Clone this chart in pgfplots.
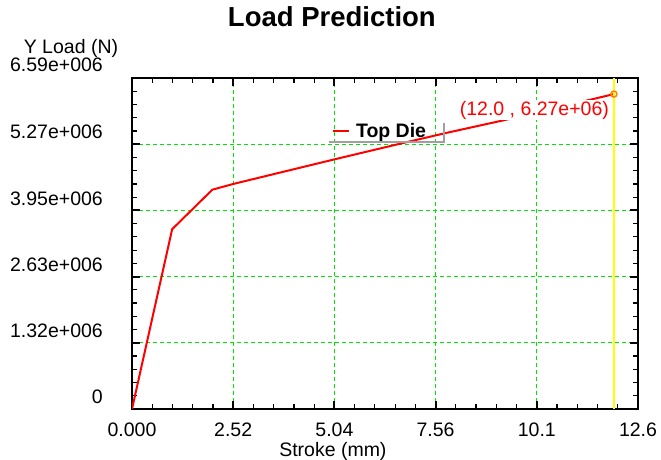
\documentclass[border=0pt]{standalone}
\usepackage{pgfplots}
\pgfplotsset{compat=1.18}
\usepackage{fontspec}
\setmainfont{Liberation Sans}
\definecolor{gridgreen}{RGB}{0,230,0}
\definecolor{markorange}{RGB}{255,128,0}
\definecolor{shadowgray}{RGB}{160,160,160}
\definecolor{pureyellow}{RGB}{255,255,0}
\begin{document}
\begin{tikzpicture}
\useasboundingbox (0,0) rectangle (661pt,460pt);
\begin{axis}[
  at={(132pt,51pt)}, anchor=south west,
  scale only axis, width=506pt, height=331pt,
  xmin=0, xmax=12.6, ymin=0, ymax=6.59e6,
  axis line style={line width=2.5pt},
  xtick={0,2.52,5.04,7.56,10.08,12.6},
  xticklabels={0.000,2.52,5.04,7.56,10.1,12.6},
  ytick={0,1.318e6,2.636e6,3.954e6,5.272e6,6.59e6},
  yticklabels={0,1.32e+006,2.63e+006,3.95e+006,5.27e+006,\raisebox{3pt}{6.59e+006}},
  scaled y ticks=false,
  minor x tick num=4, minor y tick num=4,
  tick align=inside, major tick length=8pt, minor tick length=5pt,
  every tick/.style={black},
  major tick style={line width=2pt, black},
  minor tick style={line width=1.2pt, black},
  /pgf/number format/assume math mode=true,
  ticklabel style={font=\fontsize{19.5}{22}\selectfont},
  xticklabel style={anchor=north, inner sep=0pt, yshift=-14pt},
  yticklabel style={anchor=east, inner sep=0pt, xshift=-29pt, yshift=12pt},
  grid=major,
  major grid style={gridgreen, dash pattern=on 4pt off 3pt, line width=1pt},
  title={Load Prediction},
  title style={font=\bfseries\fontsize{27.5}{32}\selectfont, at={(axis description cs:0.395,1.166)}, anchor=center},
  xlabel={Stroke (mm)},
  every axis x label/.style={at={(axis description cs:0.397,-0.127)}, anchor=center, font=\fontsize{19.5}{22}\selectfont},
  ylabel={Y Load (N)},
  every axis y label/.style={at={(axis description cs:-0.1206,1.0906)}, anchor=center, font=\fontsize{19.5}{22}\selectfont},
  legend style={name=leg, at={(axis description cs:0.389,0.807)}, anchor=south west, draw=none, fill=none, inner xsep=3pt, inner ysep=1pt,
    font=\bfseries\fontsize{19.5}{22}\selectfont, nodes={inner xsep=6pt, inner ysep=2pt}},
  legend cell align=left,
  legend image code/.code={\draw[red, line width=2pt] (0pt,0pt) -- (16pt,0pt);},
]
\addplot[red, line width=2pt] coordinates {
  (0,0) (1.0,3.58e6) (2.0,4.366e6) (2.52,4.48e6) (5.04,4.97e6)
  (6.72,5.29e6) (7.79,5.49e6) (9.49,5.79e6) (12.0,6.27e6)
};
\addlegendentry{Top Die}
\addplot[pureyellow, line width=1.5pt, forget plot] coordinates {(12.0,0) (12.0,6.59e6)};
\addplot[only marks, mark=o, mark size=3pt, markorange, mark options={line width=1.5pt}, forget plot] coordinates {(12.0,6.27e6)};
\node[fill=white, text=red, inner sep=1pt, font=\fontsize{19.5}{22}\selectfont] at (axis cs:10.02,5.953e6) {(12.0 , 6.27e+06)};
\end{axis}
\draw[shadowgray, line width=2pt] (leg.south west) -- ([xshift=9pt]leg.south east) -- ([xshift=9pt,yshift=-3pt]leg.north east);
\end{tikzpicture}
\end{document}
